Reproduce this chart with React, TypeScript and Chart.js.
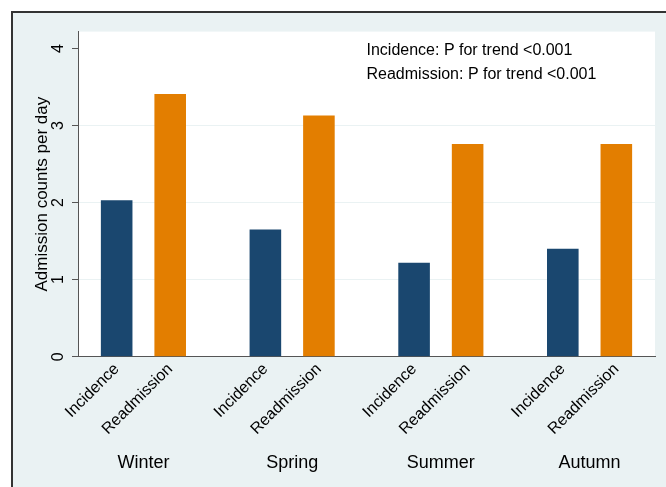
import React, { useEffect, useRef } from "react";
import { Chart, registerables } from "chart.js";

Chart.register(...registerables);

// ---- data ----
const seasons = ["Winter", "Spring", "Summer", "Autumn"];
const seriesNames = ["Incidence", "Readmission"];
const incidence = [2.03, 1.65, 1.22, 1.4];
const readmission = [3.41, 3.13, 2.76, 2.76];
const yTicks = [0, 1, 2, 3, 4];
const notes = ["Incidence: P for trend <0.001", "Readmission: P for trend <0.001"];

// ---- style ----
const NAVY = "#1A476F";
const ORANGE = "#E37E00";
const BG = "#EAF2F3";
const AXIS = "#555555";
const FONT = "'Liberation Sans', Arial, Helvetica, sans-serif";
const CAT_PCT = 0.72;
const BAR_PCT = 0.59;
const X_MIN = -0.44;
const X_MAX = 3.44;
const Y_MAX = 4.22;

const plotBg = {
  id: "plotBg",
  beforeDraw(chart: any) {
    const { ctx, chartArea } = chart;
    ctx.save();
    ctx.fillStyle = "#ffffff";
    ctx.fillRect(chartArea.left, chartArea.top, chartArea.right - chartArea.left, chartArea.bottom - chartArea.top);
    ctx.restore();
  },
};

const notesPlugin = {
  id: "notes",
  afterDatasetsDraw(chart: any) {
    const { ctx } = chart;
    const xs = chart.scales.x;
    const ys = chart.scales.y;
    ctx.save();
    ctx.font = `16px ${FONT}`;
    ctx.fillStyle = "#000";
    ctx.textAlign = "left";
    ctx.textBaseline = "middle";
    notes.forEach((t, i) => {
      ctx.fillText(t, xs.getPixelForValue(1.5), ys.getPixelForValue(3.97 - i * 0.305));
    });
    ctx.restore();
  },
};

export default function App() {
  const ref = useRef<HTMLCanvasElement | null>(null);

  useEffect(() => {
    if (!ref.current) return;
    const n = seriesNames.length;
    const subTickValues = seasons.flatMap((_, i) =>
      seriesNames.map((_, j) => i + (j - (n - 1) / 2) * (CAT_PCT / n))
    );
    const baseX = {
      type: "linear",
      position: "bottom",
      min: X_MIN,
      max: X_MAX,
      offset: false,
      border: { display: false },
    };
    const chart = new Chart(ref.current, {
      type: "bar",
      data: {
        datasets: [
          {
            label: seriesNames[0],
            data: incidence.map((v, i) => ({ x: i, y: v })),
            backgroundColor: NAVY,
            borderWidth: 0,
            categoryPercentage: CAT_PCT,
            barPercentage: BAR_PCT,
            xAxisID: "x",
            yAxisID: "y",
          },
          {
            label: seriesNames[1],
            data: readmission.map((v, i) => ({ x: i, y: v })),
            backgroundColor: ORANGE,
            borderWidth: 0,
            categoryPercentage: CAT_PCT,
            barPercentage: BAR_PCT,
            xAxisID: "x",
            yAxisID: "y",
          },
        ],
      },
      options: {
        responsive: false,
        animation: false,
        devicePixelRatio: 1,
        layout: { padding: { top: 16, right: 11, left: 0, bottom: 0 } },
        plugins: { legend: { display: false }, tooltip: { enabled: false } },
        scales: {
          x: {
            ...baseX,
            weight: 0,
            afterBuildTicks: (s: any) => {
              s.ticks = seasons.map((_, i) => ({ value: i }));
            },
            ticks: { display: false },
            grid: { display: false, offset: false, drawTicks: false, tickLength: 0 },
            border: { display: true, color: AXIS, width: 1 },
            afterFit: (s: any) => {
              s.height = 0;
            },
          },
          xSub: {
            ...baseX,
            weight: 1,
            afterBuildTicks: (s: any) => {
              s.ticks = subTickValues.map((v) => ({ value: v }));
            },
            ticks: {
              autoSkip: false,
              minRotation: 45,
              maxRotation: 45,
              padding: 3,
              color: "#000",
              font: { family: FONT, size: 16 },
              callback: (_v: any, idx: number) => seriesNames[idx % n],
            },
            grid: { display: false, offset: false, drawTicks: false, tickLength: 0 },
            afterFit: (s: any) => {
              s.height = 93;
            },
          },
          xSeason: {
            ...baseX,
            weight: 2,
            afterBuildTicks: (s: any) => {
              s.ticks = seasons.map((_, i) => ({ value: i }));
            },
            ticks: {
              autoSkip: false,
              minRotation: 0,
              maxRotation: 0,
              padding: 3,
              color: "#000",
              font: { family: FONT, size: 18 },
              callback: (_v: any, idx: number) => seasons[idx],
            },
            grid: { display: false, offset: false, drawTicks: false, tickLength: 0 },
            afterFit: (s: any) => {
              s.height = 37.3;
            },
          },
          y: {
            type: "linear",
            position: "left",
            min: 0,
            max: Y_MAX,
            afterBuildTicks: (s: any) => {
              s.ticks = yTicks.map((v) => ({ value: v }));
            },
            ticks: {
              minRotation: 90,
              maxRotation: 90,
              crossAlign: "center",
              padding: 9,
              color: "#000",
              font: { family: FONT, size: 16 },
              callback: (v: any) => String(v),
            },
            grid: {
              color: (c: any) =>
                c.tick && (c.tick.value === yTicks[0] || c.tick.value === yTicks[yTicks.length - 1])
                  ? "rgba(0,0,0,0)"
                  : BG,
              lineWidth: 1,
              tickColor: AXIS,
              tickLength: 6,
              drawTicks: true,
            },
            border: { display: true, color: AXIS, width: 1 },
            title: {
              display: true,
              text: "Admission counts per day",
              color: "#000",
              font: { family: FONT, size: 17 },
              padding: { top: 19, bottom: 0 },
            },
            afterFit: (s: any) => {
              s.width = 65;
            },
          },
        },
      } as any,
      plugins: [plotBg, notesPlugin],
    });
    return () => chart.destroy();
  }, []);

  return (
    <div
      style={{
        position: "fixed",
        left: 11,
        top: 11,
        width: 655,
        height: 476,
        boxSizing: "border-box",
        borderTop: "2px solid #333",
        borderLeft: "2px solid #333",
        background: BG,
        overflow: "hidden",
      }}
    >
      <canvas ref={ref} width={653} height={474} style={{ display: "block" }} />
    </div>
  );
}
